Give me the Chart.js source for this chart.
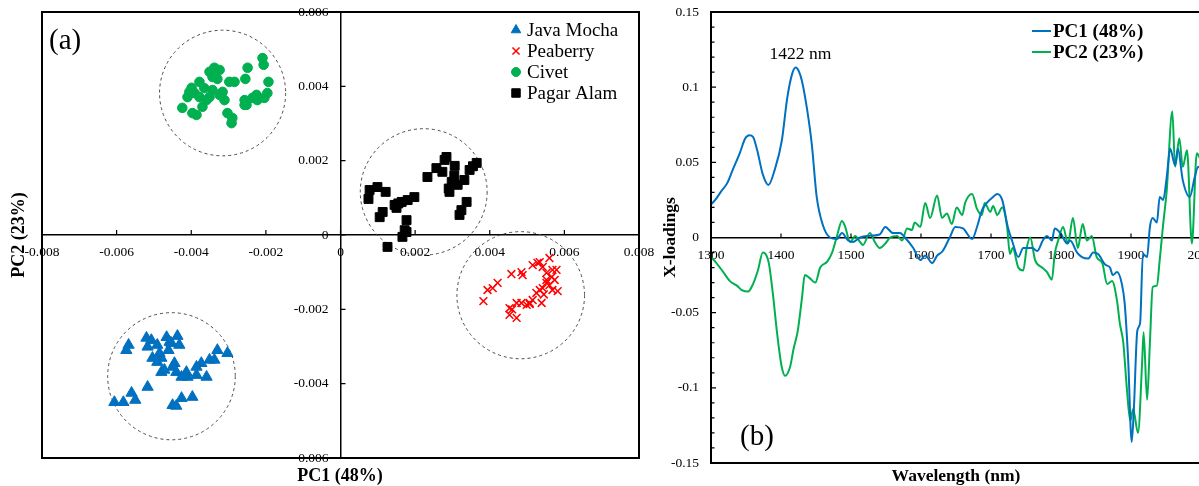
<!DOCTYPE html>
<html>
<head>
<meta charset="utf-8">
<script src="https://cdn.jsdelivr.net/npm/chart.js@4.4.0/dist/chart.umd.min.js"></script>
<style>
  html, body { margin: 0; padding: 0; background: #fff; overflow: hidden; width: 1199px; height: 486px; }
  canvas { position: absolute; top: 0; }
</style>
</head>
<body>
<canvas id="pcaChart" width="680" height="486" style="left:0"></canvas>
<canvas id="loadChart" width="600" height="486" style="left:640px"></canvas>
<script>
// ---- (a) PCA scores ----
const javaX = [-0.00606, -0.00582, -0.00560, -0.00550, -0.00574, -0.00568, -0.00517, -0.00520, -0.00517, -0.00507,
  -0.00491, -0.00466, -0.00458, -0.00461, -0.00437, -0.00432, -0.00504, -0.00485, -0.00480, -0.00491,
  -0.00480, -0.00472, -0.00450, -0.00445, -0.00440, -0.00426, -0.00413, -0.00410, -0.00386, -0.00386,
  -0.00373, -0.00359, -0.00351, -0.00338, -0.00330, -0.00303, -0.00450, -0.00440, -0.00426, -0.00397, -0.00453];
const javaY = [-0.00450, -0.00450, -0.00425, -0.00444, -0.00310, -0.00296, -0.00409, -0.00277, -0.00301, -0.00283,
  -0.00296, -0.00275, -0.00288, -0.00310, -0.00272, -0.00296, -0.00331, -0.00318, -0.00331, -0.00342,
  -0.00369, -0.00363, -0.00355, -0.00345, -0.00369, -0.00382, -0.00369, -0.00382, -0.00377, -0.00355,
  -0.00345, -0.00382, -0.00336, -0.00336, -0.00310, -0.00318, -0.00458, -0.00460, -0.00439, -0.00436, -0.00291];

const peaX = [0.00383, 0.00394, 0.00408, 0.00421, 0.00458, 0.00485, 0.00488, 0.00453, 0.00453, 0.00472,
  0.00472, 0.00499, 0.00507, 0.00515, 0.00525, 0.00539, 0.00534, 0.00542, 0.00560, 0.00568,
  0.00582, 0.00552, 0.00574, 0.00579, 0.00568, 0.00552, 0.00560, 0.00534, 0.00515, 0.00542,
  0.00528, 0.00552, 0.00566, 0.00507, 0.00485, 0.00460, 0.00545];
const peaY = [-0.00178, -0.00148, -0.00143, -0.00129, -0.00105, -0.00100, -0.00108, -0.00197, -0.00215, -0.00223,
  -0.00183, -0.00188, -0.00183, -0.00175, -0.00156, -0.00183, -0.00148, -0.00143, -0.00135, -0.00148,
  -0.00151, -0.00121, -0.00121, -0.00094, -0.00094, -0.00102, -0.00062, -0.00073, -0.00081, -0.00086,
  -0.00075, -0.00129, -0.00113, -0.00186, -0.00183, -0.00200, -0.00160];

const civetX = [-0.00424, -0.00399, -0.00378, -0.00397, -0.00386, -0.00370, -0.00359, -0.00378, -0.00391, -0.00343,
  -0.00343, -0.00338, -0.00324, -0.00351, -0.00316, -0.00311, -0.00298, -0.00284, -0.00303, -0.00290,
  -0.00292, -0.00257, -0.00255, -0.00249, -0.00252, -0.00236, -0.00223, -0.00209, -0.00206, -0.00193,
  -0.00196, -0.00204, -0.00225, -0.00410, -0.00351, -0.00324, -0.00257, -0.00405, -0.00365, -0.00330];
const civetY = [0.00342, 0.00396, 0.00412, 0.00328, 0.00323, 0.00345, 0.00363, 0.00371, 0.00382, 0.00390,
  0.00425, 0.00450, 0.00444, 0.00439, 0.00385, 0.00363, 0.00412, 0.00412, 0.00328, 0.00315,
  0.00301, 0.00363, 0.00420, 0.00450, 0.00350, 0.00369, 0.00363, 0.00476, 0.00458, 0.00412,
  0.00382, 0.00369, 0.00377, 0.00371, 0.00371, 0.00377, 0.00350, 0.00385, 0.00395, 0.00420];

const pagarX = [0.00075, 0.00078, 0.00099, 0.00121, 0.00105, 0.00113, 0.00145, 0.00150, 0.00164, 0.00180,
  0.00198, 0.00177, 0.00172, 0.00166, 0.00126, 0.00233, 0.00257, 0.00279, 0.00284, 0.00306,
  0.00273, 0.00298, 0.00292, 0.00314, 0.00332, 0.00346, 0.00365, 0.00338, 0.00319, 0.00324,
  0.00177, 0.00155, 0.00290, 0.00305, 0.00355];
const pagarY = [0.00097, 0.00121, 0.00129, 0.00116, 0.00048, 0.00062, 0.00081, 0.00073, 0.00089, 0.00094,
  0.00102, 0.00040, 0.00013, -0.00005, -0.00032, 0.00156, 0.00180, 0.00202, 0.00210, 0.00186,
  0.00170, 0.00143, 0.00116, 0.00135, 0.00148, 0.00175, 0.00194, 0.00089, 0.00054, 0.00067,
  0.00008, 0.00085, 0.00125, 0.00160, 0.00185];

// dashed group circles: centre and radius in score units
const ringX = [-0.00453, 0.00483, -0.00316, 0.00223];
const ringY = [-0.00380, -0.00162, 0.00382, 0.00116];
const ringR = [0.00171, 0.00171, 0.00169, 0.00170];

// ---- (b) X-loadings ----
const pc1Wl = [1300, 1306, 1315, 1323, 1331, 1341, 1349, 1355, 1360, 1366, 1374, 1382, 1391, 1401, 1409, 1416, 1421, 1426,
  1430, 1437, 1444, 1451, 1460, 1470, 1480, 1487, 1496, 1503, 1513, 1523, 1541, 1549, 1560, 1570, 1577, 1589,
  1599, 1606, 1616, 1623, 1631, 1641, 1649, 1660, 1673, 1680, 1687, 1694, 1703, 1709, 1716, 1724, 1730, 1739,
  1746, 1759, 1766, 1774, 1780, 1787, 1791, 1799, 1809, 1813, 1823, 1830, 1839, 1846, 1853, 1863, 1870, 1874,
  1880, 1887, 1891, 1896, 1901, 1904, 1909, 1913, 1917, 1923, 1927, 1931, 1937, 1941, 1946, 1951, 1956, 1963,
  1967, 1974, 1984, 1991, 1996, 2000];
const pc1Val = [0.022, 0.025, 0.031, 0.036, 0.045, 0.056, 0.066, 0.068, 0.067, 0.058, 0.042, 0.035, 0.045, 0.064, 0.093, 0.109, 0.113, 0.110,
  0.104, 0.086, 0.062, 0.027, 0.008, 0.000, -0.001, 0.003, -0.002, -0.003, 0.000, 0.001, 0.002, 0.007, 0.003, 0.003, 0.000, -0.007,
  -0.015, -0.012, -0.017, -0.012, -0.009, 0.000, 0.007, 0.006, -0.001, 0.007, 0.018, 0.023, 0.027, 0.029, 0.025, 0.007, -0.002, -0.013,
  -0.007, -0.007, -0.009, -0.002, 0.001, -0.002, 0.006, 0.003, -0.004, -0.002, -0.010, -0.013, -0.014, -0.010, -0.011, -0.018, -0.020, -0.025,
  -0.023, -0.031, -0.044, -0.082, -0.136, -0.115, -0.062, -0.057, -0.011, -0.013, 0.007, 0.013, 0.010, 0.027, 0.025, 0.040, 0.059, 0.048,
  0.059, 0.038, 0.027, 0.040, 0.047, 0.045];

const pc2Wl = [1300, 1306, 1316, 1327, 1337, 1344, 1353, 1360, 1367, 1374, 1378, 1383, 1389, 1394, 1401, 1406, 1413, 1418,
  1424, 1430, 1434, 1441, 1449, 1456, 1466, 1473, 1480, 1487, 1491, 1499, 1506, 1513, 1517, 1527, 1534, 1541,
  1549, 1556, 1566, 1573, 1580, 1587, 1591, 1599, 1606, 1613, 1623, 1630, 1637, 1644, 1651, 1659, 1663, 1673,
  1680, 1687, 1691, 1699, 1703, 1709, 1716, 1723, 1727, 1731, 1739, 1746, 1751, 1756, 1763, 1773, 1780, 1787,
  1791, 1796, 1803, 1810, 1817, 1824, 1831, 1837, 1844, 1851, 1859, 1866, 1873, 1880, 1884, 1889, 1894, 1899,
  1903, 1910, 1916, 1918, 1923, 1927, 1931, 1937, 1941, 1946, 1951, 1959, 1963, 1969, 1974, 1980, 1987, 1994, 2000];
const pc2Val = [-0.013, -0.016, -0.022, -0.029, -0.032, -0.035, -0.036, -0.031, -0.022, -0.010, -0.011, -0.018, -0.040, -0.062, -0.086, -0.092, -0.086, -0.074,
  -0.062, -0.040, -0.025, -0.027, -0.030, -0.020, -0.016, -0.010, 0.001, 0.011, 0.008, -0.003, 0.001, -0.003, -0.005, 0.003, -0.003, -0.007,
  -0.004, 0.000, 0.001, -0.002, 0.006, 0.005, 0.010, 0.007, 0.023, 0.013, 0.028, 0.013, 0.016, 0.009, 0.020, 0.015, 0.023, 0.029,
  0.019, 0.015, 0.023, 0.017, 0.021, 0.015, 0.020, 0.007, -0.011, -0.007, -0.020, -0.022, -0.007, 0.000, -0.015, -0.020, -0.023, -0.028,
  -0.011, -0.002, 0.007, -0.004, 0.013, -0.007, 0.009, -0.002, 0.001, -0.013, -0.017, -0.031, -0.029, -0.042, -0.057, -0.070, -0.100, -0.122,
  -0.114, -0.130, -0.082, -0.063, -0.108, -0.070, -0.033, -0.032, -0.015, 0.009, 0.031, 0.084, 0.047, 0.066, 0.047, 0.058, -0.004, 0.056, 0.051];

const serif = "'Liberation Serif', 'Times New Roman', serif";
const zip = (xs, ys) => xs.map((x, i) => ({ x: x, y: ys[i] }));
const isZero = v => Math.abs(v) < 1e-9;
const fmt3 = v => isZero(v) ? "0" : v.toFixed(3);
const fmt2 = v => isZero(v) ? "0" : String(+v.toFixed(2));

Chart.defaults.font.family = serif;
Chart.defaults.color = "#000";

const blue = "#0070C0";
const red = "#FF0000";
const green = "#00B050";

function drawTitle(ctx, text, x, y, rot, font) {
  ctx.save();
  ctx.translate(x, y);
  ctx.rotate(rot);
  ctx.font = font;
  ctx.fillStyle = "#000";
  ctx.textAlign = "center";
  ctx.textBaseline = "middle";
  ctx.fillText(text, 0, 0);
  ctx.restore();
}

// y tick labels to the left of an axis line placed at pixel xAxis
function drawYLabels(ctx, scale, xAxis, fmt) {
  ctx.save();
  ctx.font = "13.5px " + serif;
  ctx.fillStyle = "#000";
  ctx.textAlign = "right";
  ctx.textBaseline = "middle";
  scale.ticks.forEach(t => {
    ctx.fillText(fmt(t.value), xAxis - 12, scale.getPixelForValue(t.value));
  });
  ctx.restore();
}

// Rings, y labels, frame, inner tick marks, legend and titles for (a)
const pcaDecor = {
  id: "pcaDecor",
  beforeDatasetsDraw(chart) {
    const { ctx, scales: { x, y } } = chart;
    drawYLabels(ctx, y, x.getPixelForValue(0), fmt3);
    ctx.save();
    ctx.setLineDash([3, 3]);
    ctx.strokeStyle = "#4a4a4a";
    ctx.lineWidth = 1;
    ringX.forEach((cx, i) => {
      const px = x.getPixelForValue(cx);
      const py = y.getPixelForValue(ringY[i]);
      const rx = Math.abs(x.getPixelForValue(cx + ringR[i]) - px);
      const ry = Math.abs(y.getPixelForValue(ringY[i] + ringR[i]) - py);
      ctx.beginPath();
      ctx.ellipse(px, py, rx, ry, 0, 0, Math.PI * 2);
      ctx.stroke();
    });
    ctx.restore();
  },
  afterDraw(chart) {
    const { ctx, chartArea: a, scales: { x, y } } = chart;
    const x0 = x.getPixelForValue(0);
    const y0 = y.getPixelForValue(0);
    ctx.save();
    ctx.strokeStyle = "#000";
    ctx.lineWidth = 2;
    ctx.strokeRect(a.left, a.top, a.right - a.left, a.bottom - a.top);

    ctx.lineWidth = 1.2;
    ctx.beginPath();
    x.ticks.forEach(t => {
      const px = x.getPixelForValue(t.value);
      ctx.moveTo(px, y0);
      ctx.lineTo(px, y0 - 5);
    });
    y.ticks.forEach(t => {
      const py = y.getPixelForValue(t.value);
      ctx.moveTo(x0, py);
      ctx.lineTo(x0 + 5, py);
    });
    ctx.stroke();

    // legend
    const H = Chart.helpers;
    ctx.font = "19px " + serif;
    ctx.textBaseline = "middle";
    ctx.textAlign = "left";
    chart.data.datasets.forEach((ds, i) => {
      const ly = 30 + i * 21;
      ctx.fillStyle = ds.backgroundColor;
      ctx.strokeStyle = ds.borderColor;
      ctx.lineWidth = ds.borderWidth;
      H.drawPoint(ctx, { pointStyle: ds.pointStyle, radius: ds.legendRadius, borderWidth: ds.borderWidth, rotation: 0 }, 516, ly);
      ctx.fillStyle = "#000";
      ctx.fillText(ds.label, 527, ly + 1);
    });

    drawTitle(ctx, "PC1 (48%)", 340, 476, 0, "bold 18px " + serif);
    drawTitle(ctx, "PC2 (23%)", 19, 235, -Math.PI / 2, "bold 18px " + serif);
    ctx.font = "29px " + serif;
    ctx.fillStyle = "#000";
    ctx.textAlign = "left";
    ctx.fillText("(a)", 49, 41);
    ctx.restore();
  }
};

new Chart(document.getElementById("pcaChart"), {
  type: "scatter",
  data: {
    datasets: [
      { label: "Java Mocha", data: zip(javaX, javaY), pointStyle: "triangle", pointRadius: 6.5, legendRadius: 5.5,
        backgroundColor: blue, borderColor: blue, borderWidth: 1 },
      { label: "Peaberry", data: zip(peaX, peaY), pointStyle: "crossRot", pointRadius: 5.5, legendRadius: 5,
        backgroundColor: red, borderColor: red, borderWidth: 1.5 },
      { label: "Civet", data: zip(civetX, civetY), pointStyle: "circle", pointRadius: 4.8, legendRadius: 4.5,
        backgroundColor: green, borderColor: green, borderWidth: 1 },
      { label: "Pagar Alam", data: zip(pagarX, pagarY), pointStyle: "rect", pointRadius: 6.3, legendRadius: 6,
        backgroundColor: "#000", borderColor: "#000", borderWidth: 1 }
    ]
  },
  options: {
    responsive: false,
    animation: false,
    events: [],
    layout: { padding: { left: 42, right: 41, top: 12, bottom: 28 } },
    plugins: { legend: { display: false }, tooltip: { enabled: false } },
    scales: {
      x: {
        type: "linear", min: -0.008, max: 0.008, position: { y: 0 },
        grid: { display: false, drawTicks: true, tickLength: 8 },
        border: { display: true, color: "#000", width: 1.5 },
        ticks: { stepSize: 0.002, padding: 1, autoSkip: false, maxRotation: 0,
          font: { size: 13.5, family: serif }, color: "#000", callback: fmt3 }
      },
      y: {
        type: "linear", min: -0.006, max: 0.006, position: { x: 0 },
        grid: { display: false, drawTicks: false },
        border: { display: true, color: "#000", width: 1.5 },
        ticks: { stepSize: 0.002, autoSkip: false, display: false }
      }
    }
  },
  plugins: [pcaDecor]
});

// Frame, y labels, tick marks, legend and notes for (b)
const loadDecor = {
  id: "loadDecor",
  afterDraw(chart) {
    const { ctx, chartArea: a, scales: { x, y } } = chart;
    const y0 = y.getPixelForValue(0);
    drawYLabels(ctx, y, a.left, fmt2);
    ctx.save();
    ctx.strokeStyle = "#000";
    ctx.lineWidth = 2;
    ctx.strokeRect(a.left, a.top, a.right - a.left, a.bottom - a.top);

    ctx.lineWidth = 1.2;
    ctx.beginPath();
    x.ticks.forEach(t => {
      const px = x.getPixelForValue(t.value);
      ctx.moveTo(px, y0);
      ctx.lineTo(px, y0 - 4);
    });
    for (let k = -15; k <= 15; k++) {
      const py = y.getPixelForValue(k / 100);
      ctx.moveTo(a.left, py);
      ctx.lineTo(a.left + (k % 5 === 0 ? 5 : 3.5), py);
    }
    ctx.stroke();

    // legend
    ctx.font = "bold 19px " + serif;
    ctx.textBaseline = "middle";
    ctx.textAlign = "left";
    chart.data.datasets.forEach((ds, i) => {
      const ly = 31 + i * 21;
      ctx.strokeStyle = ds.borderColor;
      ctx.lineWidth = 2;
      ctx.beginPath();
      ctx.moveTo(392, ly);
      ctx.lineTo(411, ly);
      ctx.stroke();
      ctx.fillStyle = "#000";
      ctx.fillText(ds.label, 413, ly + 1);
    });

    ctx.font = "17.5px " + serif;
    ctx.textAlign = "center";
    ctx.fillText("1422 nm", x.getPixelForValue(1422) + 4, y.getPixelForValue(0.113) - 13);
    ctx.font = "29px " + serif;
    ctx.fillText("(b)", 117, 437);

    drawTitle(ctx, "Wavelength (nm)", (a.left + a.right) / 2, 476, 0, "bold 17.5px " + serif);
    drawTitle(ctx, "X-loadings", 30, (a.top + a.bottom) / 2, -Math.PI / 2, "bold 17.5px " + serif);
    ctx.restore();
  }
};

new Chart(document.getElementById("loadChart"), {
  type: "line",
  data: {
    datasets: [
      { label: "PC1 (48%)", data: zip(pc1Wl, pc1Val), borderColor: blue, borderWidth: 2,
        pointRadius: 0, fill: false, cubicInterpolationMode: "monotone" },
      { label: "PC2 (23%)", data: zip(pc2Wl, pc2Val), borderColor: green, borderWidth: 2,
        pointRadius: 0, fill: false, cubicInterpolationMode: "monotone" }
    ]
  },
  options: {
    responsive: false,
    animation: false,
    events: [],
    layout: { padding: { left: 71, right: 39, top: 12, bottom: 23 } },
    plugins: { legend: { display: false }, tooltip: { enabled: false } },
    scales: {
      x: {
        type: "linear", min: 1300, max: 2000, position: { y: 0 },
        grid: { display: false, drawTicks: true, tickLength: 8 },
        border: { display: true, color: "#000", width: 1.5 },
        ticks: { stepSize: 100, padding: 2, autoSkip: false, maxRotation: 0,
          font: { size: 13.5, family: serif }, color: "#000",
          callback: v => String(v) }
      },
      y: {
        type: "linear", min: -0.15, max: 0.15, position: { x: 1300 },
        grid: { display: false, drawTicks: false },
        border: { display: true, color: "#000", width: 1.5 },
        ticks: { stepSize: 0.05, autoSkip: false, display: false }
      }
    }
  },
  plugins: [loadDecor]
});
</script>
</body>
</html>
